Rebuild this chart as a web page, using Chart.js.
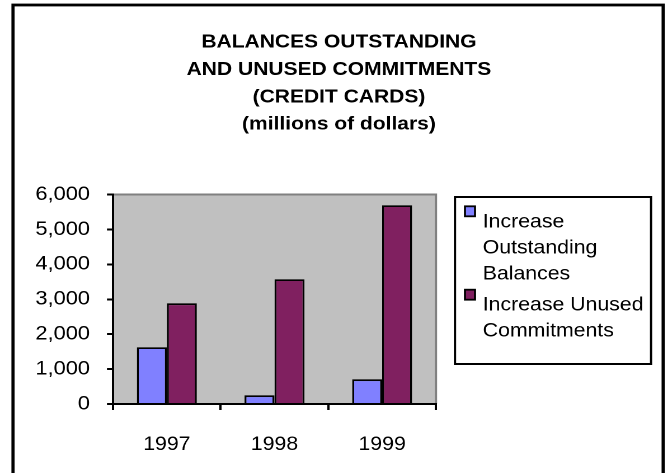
<!DOCTYPE html>
<html>
<head>
<meta charset="utf-8">
<script src="https://cdn.jsdelivr.net/npm/chart.js@4.4.0/dist/chart.umd.min.js"></script>
<style>
    body { margin: 0; background: #ffffff; overflow: hidden; }
    #wrap { width: 597px; height: 473px; transform: scaleX(1.119); transform-origin: 0 0; }
</style>
</head>
<body>
<div id="wrap"><canvas id="creditChart" width="597" height="473"></canvas></div>
<script>
const years = ['1997', '1998', '1999'];
const outstandingBalances = [1625, 250, 708];
const unusedCommitments = [2885, 3573, 5693];
const yTicks = [0, 1000, 2000, 3000, 4000, 5000, 6000];
const titleLines = [
    'BALANCES OUTSTANDING',
    'AND UNUSED COMMITMENTS',
    '(CREDIT CARDS)',
    '(millions of dollars)'
];

const FONT = '"Liberation Sans", Arial, sans-serif';

// page frame, plot background and the gray top/right edge of the plot
const framePlugin = {
    id: 'framePlugin',
    beforeDraw(chart) {
        const { ctx, chartArea: a } = chart;
        ctx.save();
        ctx.fillStyle = '#ffffff';
        ctx.fillRect(0, 0, chart.width, chart.height);
        ctx.strokeStyle = '#000000';
        ctx.lineWidth = 2.8;
        ctx.strokeRect(11.6, 5, 581, 540);
        ctx.fillStyle = '#c0c0c0';
        ctx.fillRect(a.left, a.top, a.right - a.left, a.bottom - a.top);
        ctx.strokeStyle = '#808080';
        ctx.lineWidth = 2;
        ctx.beginPath();
        ctx.moveTo(a.left, a.top);
        ctx.lineTo(a.right, a.top);
        ctx.lineTo(a.right, a.bottom);
        ctx.stroke();
        ctx.restore();
    }
};

// title block
const titlePlugin = {
    id: 'titlePlugin',
    afterDraw(chart) {
        const ctx = chart.ctx;
        ctx.save();
        ctx.fillStyle = '#000000';
        ctx.font = `bold 18.8px ${FONT}`;
        ctx.textAlign = 'center';
        ctx.textBaseline = 'alphabetic';
        titleLines.forEach((line, i) => {
            ctx.fillText(line, 302.9, 47.7 + i * 27.3);
        });
        ctx.restore();
    }
};

function wrapText(ctx, text, maxWidth) {
    const words = text.split(' ');
    const lines = [];
    let cur = '';
    words.forEach(w => {
        const test = cur ? cur + ' ' + w : w;
        if (cur && ctx.measureText(test).width > maxWidth) {
            lines.push(cur);
            cur = w;
        } else {
            cur = test;
        }
    });
    if (cur) lines.push(cur);
    return lines;
}

// boxed legend with wrapped labels
const legendPlugin = {
    id: 'legendPlugin',
    afterDraw(chart) {
        const ctx = chart.ctx;
        ctx.save();
        ctx.strokeStyle = '#000000';
        ctx.lineWidth = 2;
        ctx.strokeRect(406.6, 197, 175.2, 167);
        ctx.font = `19px ${FONT}`;
        ctx.textAlign = 'left';
        ctx.textBaseline = 'alphabetic';
        let baseline = 227.3;
        chart.data.datasets.forEach(ds => {
            const boxTop = baseline - 21;
            ctx.fillStyle = ds.backgroundColor;
            ctx.fillRect(415.5, boxTop, 9, 10);
            ctx.lineWidth = 1.8;
            ctx.strokeStyle = '#000000';
            ctx.strokeRect(415.5, boxTop, 9, 10);
            ctx.fillStyle = '#000000';
            const lines = wrapText(ctx, ds.label, 150);
            lines.forEach((l, i) => ctx.fillText(l, 431.4, baseline + i * 26));
            baseline += (lines.length - 1) * 26 + 31.4;
        });
        ctx.restore();
    }
};

const ctx = document.getElementById('creditChart').getContext('2d');
new Chart(ctx, {
    type: 'bar',
    data: {
        labels: years,
        datasets: [{
            label: 'Increase Outstanding Balances',
            data: outstandingBalances,
            backgroundColor: '#8080ff',
            borderColor: '#000000',
            borderWidth: 1.8,
            borderSkipped: 'bottom'
        }, {
            label: 'Increase Unused Commitments',
            data: unusedCommitments,
            backgroundColor: '#802060',
            borderColor: '#000000',
            borderWidth: 1.8,
            borderSkipped: 'bottom'
        }]
    },
    options: {
        responsive: false,
        animation: false,
        devicePixelRatio: 2,
        layout: {
            padding: { top: 194.5, right: 207.4, bottom: 0, left: 0 }
        },
        datasets: {
            bar: { categoryPercentage: 0.557, barPercentage: 1.0 }
        },
        plugins: {
            legend: { display: false },
            tooltip: { enabled: false },
            title: { display: false }
        },
        scales: {
            x: {
                afterFit: s => { s.height = 69; },
                grid: {
                    offset: true,
                    drawOnChartArea: false,
                    drawTicks: true,
                    tickLength: 6,
                    color: '#000000',
                    lineWidth: 2
                },
                border: { display: true, color: '#000000', width: 2 },
                ticks: {
                    color: '#000000',
                    padding: 23.5,
                    font: { family: FONT, size: 19 }
                }
            },
            y: {
                min: 0,
                max: 6000,
                afterFit: s => { s.width = 101; },
                afterBuildTicks: s => { s.ticks = yTicks.map(v => ({ value: v })); },
                grid: {
                    drawOnChartArea: false,
                    drawTicks: true,
                    tickLength: 5.4,
                    color: '#000000',
                    lineWidth: 2
                },
                border: { display: true, color: '#000000', width: 2 },
                ticks: {
                    color: '#000000',
                    padding: 15.2,
                    font: { family: FONT, size: 19.5 },
                    callback: v => v.toLocaleString('en-US')
                }
            }
        }
    },
    plugins: [framePlugin, titlePlugin, legendPlugin]
});
</script>
</body>
</html>
